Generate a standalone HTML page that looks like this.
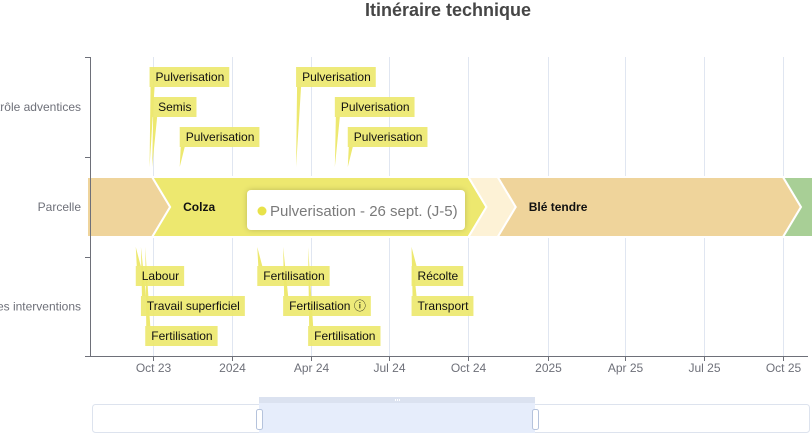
<!DOCTYPE html>
<html><head><meta charset="utf-8">
<style>
html,body{margin:0;padding:0;background:#fff;}
body{width:812px;height:436px;overflow:hidden;position:relative;font-family:"Liberation Sans",sans-serif;}
svg{position:absolute;left:0;top:0;}
</style></head>
<body>
<svg id="chart" width="812" height="436">
  <text x="448" y="16" text-anchor="middle" font-size="18" font-weight="bold" fill="#464646">Itinéraire technique</text>
  <defs><clipPath id="plotclip"><rect x="88" y="40" width="724" height="330"/></clipPath>
  <filter id="sh" x="-20%" y="-40%" width="140%" height="180%"><feDropShadow dx="0" dy="0" stdDeviation="3" flood-color="#000" flood-opacity="0.2"/></filter></defs>
  <g id="grid"></g>
  <g id="bars" clip-path="url(#plotclip)"></g>
  <g id="axes"></g>
  <g id="pins"></g>
  <g id="boxes"></g>
  <g id="labels"></g>
  <g filter="url(#sh)">
    <rect x="247" y="190" width="218" height="40" rx="4" fill="#fff"/>
  </g>
  <circle cx="262" cy="211" r="4.5" fill="#e8e24a"/>
  <text x="270" y="216" font-size="15" fill="#7a7a7a">Pulverisation - 26 sept. (J-5)</text>
  <g>
    <rect x="92.5" y="404.5" width="717" height="28" rx="3" fill="#fff" stroke="#dde3ee"/>
    <rect x="259" y="397" width="276" height="36" fill="#e6edfb"/>
    <rect x="259" y="397" width="276" height="6" fill="#dbe2f0"/>
    <rect x="395" y="399" width="1" height="2" fill="#fff"/><rect x="397" y="399" width="1" height="2" fill="#fff"/><rect x="399" y="399" width="1" height="2" fill="#fff"/>
    <rect x="256.5" y="409.5" width="6" height="20" rx="2" fill="#fff" stroke="#b5c3dc"/>
    <rect x="532.5" y="409.5" width="6" height="20" rx="2" fill="#fff" stroke="#b5c3dc"/>
  </g>
</svg>
<script>
const tickLabels = ["Oct 23","2024","Apr 24","Jul 24","Oct 24","2025","Apr 25","Jul 25","Oct 25"];
const tickDates = ["2023-10-01","2024-01-01","2024-04-01","2024-07-01","2024-10-01","2025-01-01","2025-04-01","2025-07-01","2025-10-01"];
const rowLabels = ["Contrôle adventices","Parcelle","Autres interventions"];
const cropNames = ["","Colza","","Blé tendre",""];
const cropStarts = ["2023-06-01","2023-09-30","2024-10-01","2024-11-04","2025-10-01"];
const cropEnds = ["2023-09-30","2024-10-01","2024-11-04","2025-10-01","2026-03-01"];
const cropColors = ["#efd49b","#ede86f","#fdf2d6","#efd49b","#a8cf96"];
const topNames = ["Pulverisation","Semis","Pulverisation","Pulverisation","Pulverisation","Pulverisation"];
const topDates = ["2023-09-27","2023-09-30","2023-11-01","2024-03-15","2024-04-29","2024-05-14"];
const topLevels = [0,1,2,0,1,2];
const botNames = ["Labour","Travail superficiel","Fertilisation","Fertilisation","Fertilisation ⓘ","Fertilisation","Récolte","Transport"];
const botDates = ["2023-09-11","2023-09-17","2023-09-22","2024-01-30","2024-02-29","2024-03-29","2024-07-27","2024-07-27"];
const botLevels = [0,1,2,0,1,2,0,1];

const NS="http://www.w3.org/2000/svg";
const X0=153,X1=783,D0=Date.parse("2023-10-01"),D1=Date.parse("2025-10-01");
function xs(d){return X0+(Date.parse(d)-D0)/(D1-D0)*(X1-X0);}
const rowY=[57,157,257,356];
function mk(tag,attrs,parent){const e=document.createElementNS(NS,tag);for(const k in attrs)e.setAttribute(k,attrs[k]);parent.appendChild(e);return e;}
const grid=document.getElementById('grid'),axes=document.getElementById('axes'),bars=document.getElementById('bars');
const pins=document.getElementById('pins'),boxes=document.getElementById('boxes'),labels=document.getElementById('labels');

tickDates.forEach((d,i)=>{
  const x=Math.round(xs(d))+0.5;
  const gl=mk('line',{x1:x,x2:x,y1:57,y2:356,stroke:'#e0e6f1'},grid);
  
  
  mk('line',{x1:x,x2:x,y1:356,y2:361,stroke:'#6e7079'},axes);
  const t=mk('text',{x:x,y:372,'text-anchor':'middle','font-size':12,fill:'#6e7079'},axes);
  t.textContent=tickLabels[i];
  
  
});
mk('line',{x1:90,x2:808,y1:356.5,y2:356.5,stroke:'#6e7079'},axes);
mk('line',{x1:90.5,x2:90.5,y1:57,y2:357,stroke:'#6e7079'},axes);
rowY.forEach(y=>mk('line',{x1:85,x2:90,y1:y+0.5,y2:y+0.5,stroke:'#6e7079'},axes));
rowLabels.forEach((l,i)=>{
  const t=mk('text',{x:81,y:(rowY[i]+rowY[i+1])/2+4,'text-anchor':'end','font-size':12,fill:'#6e7079'},axes);
  t.textContent=l;
  
  
});

cropStarts.forEach((s,i)=>{
  const a=xs(s),b=xs(cropEnds[i]),T=177,B=237,M=207,p=18;
  const pts=`${a},${T} ${b},${T} ${b+p},${M} ${b},${B} ${a},${B} ${a+p},${M}`;
  const pg=mk('polygon',{points:pts,fill:cropColors[i],stroke:'#fff','stroke-width':2},bars);
  
  
  if(cropNames[i]){
    const t=mk('text',{x:a+31,y:211,'font-size':12,'font-weight':'bold',fill:'#111'},bars);
    t.textContent=cropNames[i];
    
    
  }
});

function marker(name,d,level,top){
  const x=xs(d);
  const ly= top ? 67+level*30 : 266+level*30;
  const base= top ? 167 : 247;
  const tri= top ? `${x},${base} ${x+1},${ly+20} ${x+5},${ly+20}` : `${x},${base} ${x+1},${ly} ${x+5},${ly}`;
  const p=mk('polygon',{points:tri,fill:'#ede86f'},pins);
  
  
  const t=mk('text',{x:x+6,y:ly+14,'font-size':12,fill:'#111'},labels);
  t.textContent=name;
  
  
  const w=t.getComputedTextLength()+11;
  const r=mk('rect',{x:x,y:ly,width:w,height:20,fill:'#ede86f','fill-opacity':0.92},boxes);
  
  
}
topNames.forEach((n,i)=>marker(n,topDates[i],topLevels[i],true));
botNames.forEach((n,i)=>marker(n,botDates[i],botLevels[i],false));
</script>
</body></html>
